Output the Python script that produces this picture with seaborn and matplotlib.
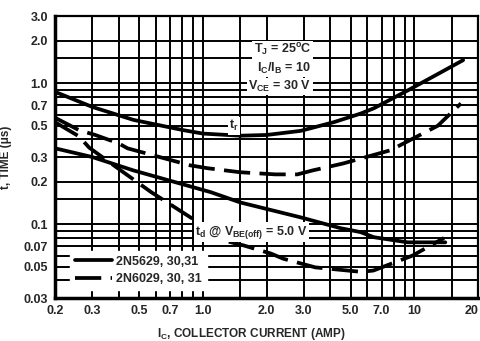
import matplotlib
matplotlib.use("Agg")
import matplotlib.pyplot as plt
import matplotlib.ticker as mticker
from matplotlib import font_manager
from matplotlib.lines import Line2D
import seaborn as sns

# Values (IC in A, t in us)
tr_solid_ic = [0.2, 0.3, 0.47, 0.81, 1.0, 1.5, 2.0, 2.9, 4.16, 5.57, 6.43, 9.3, 13.4, 17.0]
tr_solid_t = [0.87, 0.68, 0.55, 0.465, 0.44, 0.425, 0.43, 0.46, 0.53, 0.61, 0.665, 0.89, 1.2, 1.46]

tr_dash_ic = [0.2, 0.26, 0.31, 0.4, 0.44, 0.87, 1.05, 1.5, 2.2, 2.8, 3.3, 4.6, 7.7, 12.9, 16.6]
tr_dash_t = [0.57, 0.465, 0.43, 0.375, 0.346, 0.262, 0.25, 0.234, 0.226, 0.226, 0.241, 0.27, 0.335, 0.5, 0.72]

td_solid_ic = [0.2, 0.3, 0.47, 1.09, 1.5, 2.9, 4.46, 5.57, 6.43, 9.3, 14.0]
td_solid_t = [0.346, 0.3, 0.241, 0.169, 0.143, 0.112, 0.094, 0.088, 0.081, 0.0745, 0.0745]

td_dash_ic = [0.2, 0.26, 0.29, 0.39, 0.57, 0.89, 1.05, 1.55, 2.1, 2.4, 3.4, 5.6, 6.4, 9.8, 13.8]
td_dash_t = [0.53, 0.42, 0.35, 0.254, 0.169, 0.11, 0.082, 0.071, 0.062, 0.057, 0.0495, 0.046, 0.047, 0.06, 0.08]

x_grid = [0.2, 0.3, 0.4, 0.5, 0.6, 0.7, 0.8, 0.9, 1.0, 1.5, 2, 3, 4, 5, 6, 7, 8, 9, 10, 15, 20]
x_labels = {0.2: '0.2', 0.3: '0.3', 0.5: '0.5', 0.7: '0.7', 1.0: '1.0', 2: '2.0',
            3: '3.0', 5: '5.0', 7: '7.0', 10: '10', 20: '20'}
y_grid = [0.03, 0.04, 0.05, 0.06, 0.07, 0.08, 0.09, 0.1, 0.15, 0.2, 0.3, 0.4, 0.5,
          0.6, 0.7, 0.8, 0.9, 1.0, 1.5, 2.0, 3.0]
y_labels = {0.03: '0.03', 0.05: '0.05', 0.07: '0.07', 0.1: '0.1', 0.2: '0.2', 0.3: '0.3',
            0.5: '0.5', 0.7: '0.7', 1.0: '1.0', 2.0: '2.0', 3.0: '3.0'}

legend_labels = ['2N5629, 30,31', '2N6029, 30, 31']

sns.set_style("white")
# narrow bold face if there is one, else Arial-like Liberation Sans
installed = {f.name for f in font_manager.fontManager.ttflist}
face = 'Liberation Sans Narrow' if 'Liberation Sans Narrow' in installed else 'Liberation Sans'
plt.rcParams['font.family'] = [face, 'DejaVu Sans']
plt.rcParams['font.weight'] = 'bold'
plt.rcParams['mathtext.fontset'] = 'custom'
plt.rcParams['mathtext.rm'] = face + ':bold'
plt.rcParams['mathtext.it'] = face + ':bold'
plt.rcParams['mathtext.bf'] = face + ':bold'
plt.rcParams['mathtext.default'] = 'rm'

fig = plt.figure(figsize=(4.8, 3.41), dpi=100)
ax = fig.add_axes([0.1146, 0.126, 0.8814, 0.827])

dash = (0, (7, 2.5))
lw = 2.7

sns.lineplot(x=tr_solid_ic, y=tr_solid_t, ax=ax, color='black', lw=lw,
             sort=False, estimator=None)
sns.lineplot(x=tr_dash_ic, y=tr_dash_t, ax=ax, color='black', lw=lw,
             linestyle=dash, sort=False, estimator=None)
sns.lineplot(x=td_solid_ic, y=td_solid_t, ax=ax, color='black', lw=lw,
             sort=False, estimator=None)
sns.lineplot(x=td_dash_ic, y=td_dash_t, ax=ax, color='black', lw=lw,
             linestyle=dash, sort=False, estimator=None)

ax.set_xscale('log')
ax.set_yscale('log')
ax.set_xlim(0.2, 20)
ax.set_ylim(0.03, 3.0)

ax.xaxis.set_major_locator(mticker.FixedLocator(x_grid))
ax.xaxis.set_major_formatter(mticker.FixedFormatter([x_labels.get(v, '') for v in x_grid]))
ax.yaxis.set_major_locator(mticker.FixedLocator(y_grid))
ax.yaxis.set_major_formatter(mticker.FixedFormatter([y_labels.get(v, '') for v in y_grid]))
ax.xaxis.set_minor_locator(mticker.NullLocator())
ax.yaxis.set_minor_locator(mticker.NullLocator())
ax.tick_params(length=0, labelsize=9, pad=5)
for lab in ax.get_xticklabels() + ax.get_yticklabels():
    lab.set_fontweight('bold')
# last x label sits against the right edge
ax.get_xticklabels()[-1].set_horizontalalignment('right')

ax.grid(True, color='black', lw=1.4)
ax.set_axisbelow(True)
for side in ['left', 'bottom']:
    ax.spines[side].set_linewidth(2.5)
for side in ['right', 'top']:
    ax.spines[side].set_linewidth(1.6)
for s in ax.spines.values():
    s.set_color('black')

ax.set_ylabel('t, TIME (\u03bcs)', fontsize=8.5, fontweight='bold', labelpad=8)
ax.set_xlabel('I$_C$, COLLECTOR CURRENT (AMP)', fontsize=8.5, fontweight='bold')
ax.xaxis.set_label_coords(0.465, -0.1)

box = dict(facecolor='white', edgecolor='none', pad=1)
txt = dict(fontsize=9, fontweight='bold', bbox=box, va='center')
ax.text(3.25, 1.71, 'T$_J$ = 25$^o$C', ha='right', **txt)
ax.text(3.25, 1.28, 'I$_C$/I$_B$ = 10 ', ha='right', **txt)
ax.text(3.25, 0.95, 'V$_{CE}$ = 30 V', ha='right', **txt)
ax.text(1.4, 0.5, 't$_r$', ha='center', **txt)
ax.text(0.92, 0.088, 't$_d$ @ V$_{BE(off)}$ = 5.0 V', ha='left', **txt)

handles = [Line2D([], [], color='black', lw=lw),
           Line2D([], [], color='black', lw=lw, linestyle=dash)]
leg = ax.legend(handles, legend_labels, loc='lower left', bbox_to_anchor=(0.035, 0.028),
                frameon=True, fancybox=False, framealpha=1, facecolor='white',
                edgecolor='white', prop={'size': 9, 'weight': 'bold'}, handlelength=3.0,
                handletextpad=0.3, labelspacing=0.45, borderpad=0.4, borderaxespad=0)

plt.savefig('out.png', dpi=100)
